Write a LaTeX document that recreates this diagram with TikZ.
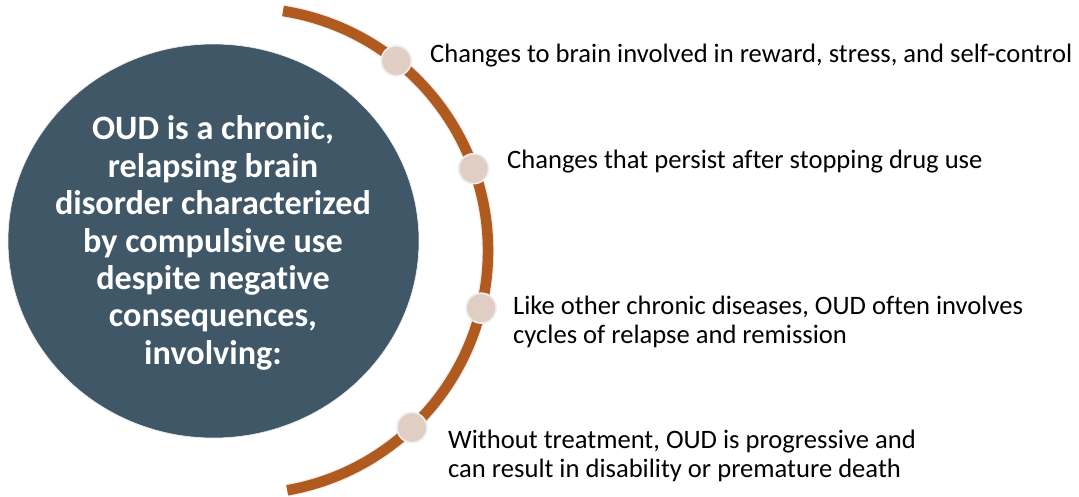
\documentclass[tikz,border=0pt]{standalone}
\usepackage{fontspec}
\setmainfont{Carlito}[Ligatures=CommonOff]
\usetikzlibrary{shapes.geometric}
\definecolor{slate}{HTML}{3F5766}
\definecolor{rust}{HTML}{B05A1F}
\definecolor{dotfill}{HTML}{E0CEC5}
\definecolor{rim}{HTML}{EEEEEE}
\tikzset{
  hub/.style={ellipse, minimum width=411pt, minimum height=394pt, fill=slate, draw=rim, line width=0.6pt, inner sep=0pt},
  hubtext/.style={text=white, font=\fontsize{34.2}{37.4}\selectfont\bfseries, align=center},
  dotmark/.style={circle, minimum size=30pt, inner sep=0pt, fill=dotfill, draw=rim, line width=1.6pt},
  label/.style={font=\fontsize{26.6}{29}\selectfont, align=left, anchor=base west, inner sep=0pt, text=black},
}
\begin{document}
\begin{tikzpicture}[x=1pt,y=-1pt]
\useasboundingbox[fill=white] (0,0) rectangle (1079,496);
\node[hub] (hub) at (213.5,241) {};
\node[hubtext] (hubt) at (213,243) {OUD is a chronic,\\relapsing brain\\disorder characterized\\by compulsive use\\despite negative\\consequences,\\involving:};
\coordinate (c) at (245,251);
% arc
\draw[rim, line width=13pt] ([shift={(81:243pt)}]c) arc[start angle=81, end angle=-80, radius=243pt];
\draw[rust, line width=10.5pt] ([shift={(81:243pt)}]c) arc[start angle=81, end angle=-80, radius=243pt];
\node[dotmark] (d1) at ([shift={(51.5:243pt)}]c) {};
\node[dotmark] (d2) at ([shift={(19.8:243pt)}]c) {};
\node[dotmark] (d3) at ([shift={(-13.6:243pt)}]c) {};
\node[dotmark] (d4) at ([shift={(-46.6:243pt)}]c) {};
\node[label] (t1) at (430,62) {Changes to brain involved in reward, stress, and self-control};
\node[label] (t2) at (507,168) {Changes that persist after stopping drug use};
\node[label] (t3) at (513,343) {Like other chronic diseases, OUD often involves\\cycles of relapse and remission};
\node[label] (t4) at (448,477) {Without treatment, OUD is progressive and\\can result in disability or premature death};
\end{tikzpicture}
\end{document}
